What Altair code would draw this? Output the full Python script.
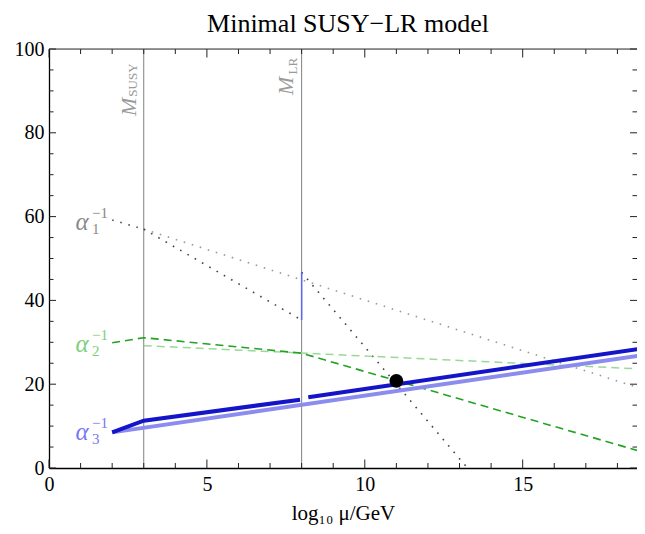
import altair as alt
import pandas as pd

# ---------------- data ----------------
# alpha_1^{-1}
a1_low_x = [2.0, 3.0]
a1_low_y = [59.2, 57.0]
a1_sm_x = [3.0, 18.85]
a1_sm_y = [57.0, 18.7]
a1_mssm_x = [3.0, 8.0]
a1_mssm_y = [57.0, 35.3]
aBL_x = [8.0, 13.25]
aBL_y = [46.7, 0.0]
jump_x = [8.0, 8.0]
jump_y = [35.3, 46.7]
# alpha_2^{-1}
a2_x = [2.0, 3.0, 8.0, 18.85]
a2_y = [29.9, 31.1, 27.4, 3.7]
a2_sm_x = [3.0, 18.85]
a2_sm_y = [29.2, 23.6]
# alpha_3^{-1}
a3_x1 = [2.0, 3.0, 7.95]
a3_y1 = [8.5, 11.3, 16.3]
a3_x2 = [8.21, 18.85]
a3_y2 = [16.9, 28.6]
a3_sm_x = [2.0, 18.85]
a3_sm_y = [8.5, 27.0]
# unification point
unif_x = [11.0]
unif_y = [20.8]
# scales
scale_x = [3.0, 8.0]

# ticks
x_major = [0, 5, 10, 15]
x_minor = [v for v in range(1, 19) if v % 5 != 0]
y_major = [0, 20, 40, 60, 80, 100]
y_minor = [v for v in range(5, 100, 5) if v % 20 != 0]

# annotations
m_susy_x, m_susy_y = [2.53], [86.2]
sub_susy_x, sub_susy_y = [2.66], [92.6]
m_lr_x, m_lr_y = [7.51], [91.2]
sub_lr_x, sub_lr_y = [7.73], [95.9]
alpha_lab_x = [0.84, 0.84, 0.84]
alpha_lab_y = [56.8, 27.7, 6.7]
alpha_idx = ["1", "2", "3"]
alpha_col = ["#8a8a8a", "#7ccf7c", "#7878f0"]

X_MAX = 18.62
W, H = 588, 419
SERIF = "Liberation Serif, DejaVu Serif, serif"

xs = alt.Scale(domain=[0, X_MAX], nice=False, zero=False)
ys = alt.Scale(domain=[0, 100], nice=False, zero=False)
xaxis = alt.Axis(values=x_major, ticks=False, grid=False, domainColor="black",
                 domainWidth=1.3, labelFont=SERIF, labelFontSize=20, labelColor="black",
                 labelPadding=6, labelFlush=False, title="log₁₀ μ/GeV", titleFont=SERIF,
                 titleFontSize=21, titleFontWeight="normal", titleColor="black",
                 titlePadding=8)
yaxis = alt.Axis(values=y_major, ticks=False, grid=False, domainColor="black",
                 domainWidth=1.3, labelFont=SERIF, labelFontSize=20, labelColor="black",
                 labelPadding=5, labelFlush=False, title=None)


def X(f="x"):
    return alt.X(f"{f}:Q", scale=xs, axis=xaxis)


def Y(f="y"):
    return alt.Y(f"{f}:Q", scale=ys, axis=yaxis)


def df(x, y):
    return pd.DataFrame({"x": x, "y": y})


def line(x, y, **kw):
    return alt.Chart(df(x, y)).mark_line(clip=True, **kw).encode(x=X(), y=Y(), order="x:Q")


layers = []
# vertical scale lines
layers.append(alt.Chart(pd.DataFrame({"x": scale_x})).mark_rule(color="#808080", strokeWidth=1)
              .encode(x=X()))

# ticks
L_MAJ, L_MIN = 8.5, 5
tick_style = dict(color="#222", strokeWidth=1)
for vals, L in ((x_major, L_MAJ), (x_minor, L_MIN)):
    d = pd.DataFrame({"x": vals})
    layers.append(alt.Chart(d).mark_rule(**tick_style).encode(x=X(), y=alt.value(H), y2=alt.value(H - L)))
    layers.append(alt.Chart(d).mark_rule(**tick_style).encode(x=X(), y=alt.value(0), y2=alt.value(L)))
for vals, L in ((y_major, 7), (y_minor, 4.5)):
    d = pd.DataFrame({"y": vals})
    layers.append(alt.Chart(d).mark_rule(**tick_style).encode(y=Y(), x=alt.value(0), x2=alt.value(L)))
    layers.append(alt.Chart(d).mark_rule(**tick_style).encode(y=Y(), x=alt.value(W), x2=alt.value(W - L)))
# top frame line
layers.append(alt.Chart(pd.DataFrame({"y": [100]})).mark_rule(color="#333", strokeWidth=1)
              .encode(y=Y(), x=alt.value(0), x2=alt.value(W)))

# curves
DOT = [1.6, 6.8]
DASH = [8, 5]
layers.append(line(a1_sm_x, a1_sm_y, color="#9a9a9a", strokeWidth=1.6, strokeDash=DOT))
layers.append(line(a1_low_x, a1_low_y, color="#555", strokeWidth=1.6, strokeDash=DOT))
layers.append(line(a1_mssm_x, a1_mssm_y, color="#444", strokeWidth=1.6, strokeDash=DOT))
layers.append(line(aBL_x, aBL_y, color="#444", strokeWidth=1.6, strokeDash=DOT))
layers.append(alt.Chart(df(jump_x, jump_y)).mark_line(color="#5a66f0", strokeWidth=1.5)
              .encode(x=X(), y=Y(), order="y:Q"))
layers.append(line(a2_sm_x, a2_sm_y, color="#9ad89a", strokeWidth=1.5, strokeDash=DASH))
layers.append(line(a2_x, a2_y, color="#22a322", strokeWidth=1.6, strokeDash=DASH))
layers.append(line(a3_sm_x, a3_sm_y, color="#8c8cee", strokeWidth=4))
layers.append(line(a3_x1, a3_y1, color="#1414c8", strokeWidth=4))
layers.append(line(a3_x2, a3_y2, color="#1414c8", strokeWidth=4))
layers.append(alt.Chart(df(unif_x, unif_y)).mark_circle(color="black", opacity=1, size=190)
              .encode(x=X(), y=Y()))

# scale labels (rotated)
GRAY = "#9a9a9a"
for (mx, my, sx, sy, sub) in ((m_susy_x, m_susy_y, sub_susy_x, sub_susy_y, "SUSY"),
                              (m_lr_x, m_lr_y, sub_lr_x, sub_lr_y, "LR")):
    layers.append(alt.Chart(df(mx, my)).mark_text(text="M", angle=270, font=SERIF, fontStyle="italic",
                                                   fontSize=22, color=GRAY, align="center",
                                                   baseline="middle").encode(x=X(), y=Y()))
    layers.append(alt.Chart(df(sx, sy)).mark_text(text=sub, angle=270, font=SERIF, fontSize=13,
                                                   color=GRAY, align="center",
                                                   baseline="middle").encode(x=X(), y=Y()))

# alpha labels
for i in range(3):
    d = df([alpha_lab_x[i]], [alpha_lab_y[i]])
    c = alpha_col[i]
    layers.append(alt.Chart(d).mark_text(text="α", font=SERIF, fontStyle="italic", fontSize=25,
                                         color=c, align="left", baseline="alphabetic")
                  .encode(x=X(), y=Y()))
    layers.append(alt.Chart(d).mark_text(text=alpha_idx[i], font=SERIF, fontSize=15, color=c,
                                         align="left", baseline="alphabetic", dx=16.5, dy=4)
                  .encode(x=X(), y=Y()))
    layers.append(alt.Chart(d).mark_text(text="−1", font=SERIF, fontSize=15, color=c,
                                         align="left", baseline="alphabetic", dx=16.5, dy=-12)
                  .encode(x=X(), y=Y()))

chart = alt.layer(*layers).properties(
    width=W, height=H,
    title=alt.TitleParams(text="Minimal SUSY−LR model", font=SERIF, fontSize=26,
                          fontWeight="normal", color="black", anchor="middle",
                          offset=2, dx=5),
    autosize=alt.AutoSizeParams(type="none"),
    padding={"left": 41, "top": 41, "right": 0, "bottom": 58},
).configure_view(stroke=None).configure(background="white")

chart.save("out.html", embed_options={"renderer": "svg", "actions": False})
